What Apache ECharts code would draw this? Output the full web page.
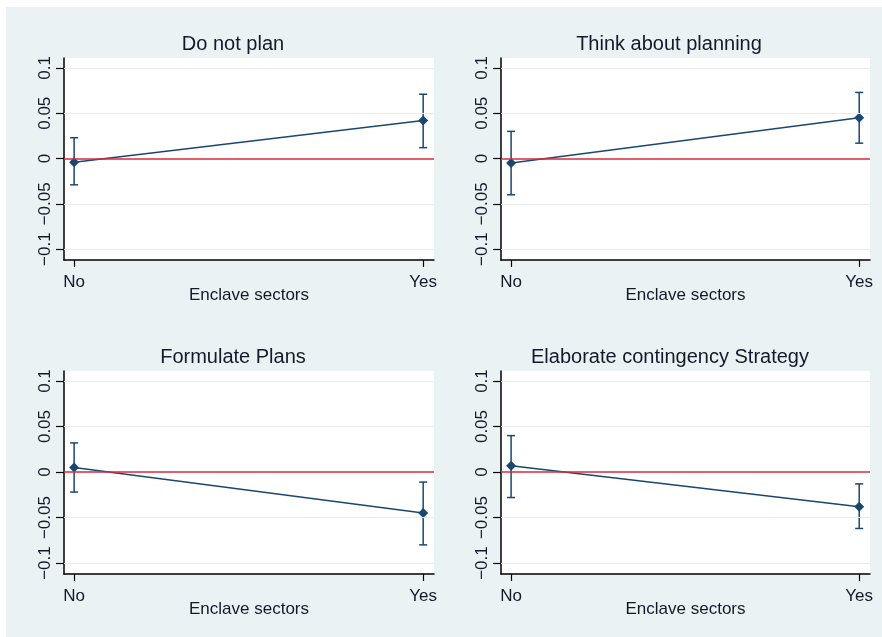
<!DOCTYPE html>
<html>
<head>
<meta charset="utf-8">
<script src="https://cdn.jsdelivr.net/npm/echarts@6/dist/echarts.min.js"></script>
<style>
html,body{margin:0;padding:0;background:#fff;}
#main{width:882px;height:637px;}
</style>
</head>
<body>
<div id="main"></div>
<script>
// ---- data ----
const panelTitles = ['Do not plan', 'Think about planning', 'Formulate Plans', 'Elaborate contingency Strategy'];
const categories = ['No', 'Yes'];
const xAxisTitle = 'Enclave sectors';
const yTicks = [-0.1, -0.05, 0, 0.05, 0.1];
const yTickLabels = ['\u22120.1', '\u22120.05', '0', '0.05', '0.1'];
// point estimates [No, Yes]
const estDoNotPlan = [-0.004, 0.042];
const estThink = [-0.005, 0.045];
const estFormulate = [0.005, -0.045];
const estElaborate = [0.007, -0.038];
// confidence interval lower / upper [No, Yes]
const loDoNotPlan = [-0.029, 0.012];
const hiDoNotPlan = [0.023, 0.071];
const loThink = [-0.040, 0.017];
const hiThink = [0.030, 0.073];
const loFormulate = [-0.022, -0.080];
const hiFormulate = [0.032, -0.011];
const loElaborate = [-0.028, -0.062];
const hiElaborate = [0.040, -0.013];

const estimates = [estDoNotPlan, estThink, estFormulate, estElaborate];
const lows = [loDoNotPlan, loThink, loFormulate, loElaborate];
const highs = [hiDoNotPlan, hiThink, hiFormulate, hiElaborate];

// ---- layout ----
const grids = [
  {left: 64, top: 58, width: 370, height: 202},
  {left: 501, top: 58, width: 369, height: 202},
  {left: 64, top: 371, width: 370, height: 203},
  {left: 501, top: 371, width: 369, height: 203}
];
const titlePos = [[233, 34], [669, 34], [233, 347], [670, 347]];

const NAVY = '#1A476F';
const RED = '#D8283C';
const GRIDLINE = '#E3EDF1';
const TEXT = '#141a2a';
const FONT = 'Liberation Sans, Arial, sans-serif';

const option = {
  backgroundColor: '#ffffff',
  animation: false,
  graphic: [{
    type: 'rect', z: -10, silent: true,
    shape: {x: 6, y: 7, width: 876, height: 630},
    style: {fill: '#EAF2F3'}
  }],
  title: panelTitles.map((t, i) => ({
    text: t, left: titlePos[i][0], top: titlePos[i][1], textAlign: 'center',
    padding: 0,
    textStyle: {fontFamily: FONT, fontSize: 20, fontWeight: 'normal', color: TEXT}
  })),
  grid: grids.map(g => Object.assign({show: true, backgroundColor: '#ffffff', borderWidth: 0, containLabel: false}, g)),
  xAxis: grids.map((g, i) => ({
    type: 'value', gridIndex: i, min: -0.029, max: 1.031,
    name: xAxisTitle, nameLocation: 'middle', nameGap: 27, nameMoveOverlap: false,
    nameTextStyle: {fontFamily: FONT, fontSize: 17, color: TEXT, verticalAlign: 'top'},
    axisLine: {show: true, onZero: false, lineStyle: {color: '#000', width: 1.5}},
    axisTick: {show: true, length: 7, customValues: [0, 1], lineStyle: {color: '#000', width: 1.2}},
    axisLabel: {customValues: [0, 1], margin: 14, fontFamily: FONT, fontSize: 17, color: TEXT,
      formatter: v => categories[Math.round(v)]},
    splitLine: {show: false}
  })),
  yAxis: grids.map((g, i) => ({
    type: 'value', gridIndex: i, min: -0.112, max: 0.111,
    axisLine: {show: true, onZero: false, lineStyle: {color: '#000', width: 1.5}},
    axisTick: {show: true, length: 8, customValues: yTicks, lineStyle: {color: '#000', width: 1.2}},
    axisLabel: {customValues: yTicks, rotate: 90, margin: 10, fontFamily: FONT, fontSize: 17, color: TEXT,
      formatter: v => {
        const k = yTicks.findIndex(t => Math.abs(t - v) < 1e-9);
        return k >= 0 ? yTickLabels[k] : '';
      }},
    splitLine: {show: false}
  })),
  series: []
};

for (let i = 0; i < 4; i++) {
  // horizontal grid lines at the tick values
  option.series.push({
    type: 'line', xAxisIndex: i, yAxisIndex: i, data: [], silent: true, z: 1,
    markLine: {
      silent: true, symbol: ['none', 'none'], label: {show: false},
      lineStyle: {color: GRIDLINE, width: 1.2, type: 'solid'},
      data: yTicks.filter(t => t !== 0).map(t => ({yAxis: t}))
    }
  });
  // red zero line
  option.series.push({
    type: 'line', xAxisIndex: i, yAxisIndex: i, data: [], silent: true, z: 2,
    markLine: {
      silent: true, symbol: ['none', 'none'], label: {show: false},
      lineStyle: {color: RED, width: 1.5, type: 'solid'},
      data: [{yAxis: 0}]
    }
  });
  // confidence intervals
  option.series.push({
    type: 'custom', xAxisIndex: i, yAxisIndex: i, z: 3,
    data: categories.map((c, k) => [k, lows[i][k], highs[i][k]]),
    renderItem: (params, api) => {
      const x = api.value(0);
      const lo = api.coord([x, api.value(1)]);
      const hi = api.coord([x, api.value(2)]);
      const cap = 4;
      const style = {stroke: NAVY, lineWidth: 1.5};
      return {
        type: 'group',
        children: [
          {type: 'line', shape: {x1: lo[0], y1: lo[1], x2: hi[0], y2: hi[1]}, style},
          {type: 'line', shape: {x1: lo[0] - cap, y1: lo[1], x2: lo[0] + cap, y2: lo[1]}, style},
          {type: 'line', shape: {x1: hi[0] - cap, y1: hi[1], x2: hi[0] + cap, y2: hi[1]}, style}
        ]
      };
    }
  });
  // point estimates
  option.series.push({
    type: 'line', xAxisIndex: i, yAxisIndex: i, z: 4,
    data: categories.map((c, k) => [k, estimates[i][k]]),
    symbol: 'diamond', symbolSize: 10, showSymbol: true,
    lineStyle: {color: NAVY, width: 1.5},
    itemStyle: {color: NAVY}
  });
}

const chart = echarts.init(document.getElementById('main'), null, {renderer: 'canvas'});
chart.setOption(option);
</script>
</body>
</html>
